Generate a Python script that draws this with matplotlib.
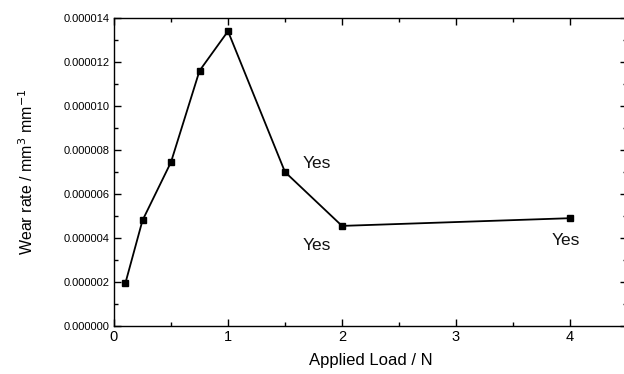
import matplotlib
matplotlib.use("Agg")
import matplotlib.pyplot as plt
from matplotlib.ticker import MultipleLocator, FormatStrFormatter

plt.rcParams['font.family'] = ['Liberation Sans', 'DejaVu Sans']

# Applied load (N) and measured wear rate (mm^3 / mm)
load = [0.1, 0.25, 0.5, 0.75, 1.0, 1.5, 2.0, 4.0]
wear_rate = [1.95e-6, 4.8e-6, 7.45e-6, 11.6e-6, 13.4e-6, 7.0e-6, 4.55e-6, 4.9e-6]

# Annotations: text, x, y
notes = ["Yes", "Yes", "Yes"]
note_x = [1.78, 1.78, 3.96]
note_y = [7.4e-6, 3.65e-6, 3.9e-6]

fig = plt.figure(figsize=(6.24, 3.74), dpi=100)
ax = fig.add_axes([114 / 624, 48 / 374, 513 / 624, 308 / 374])

ax.plot(load, wear_rate, color='black', linewidth=1.3,
        marker='s', markersize=4.8, markerfacecolor='black', markeredgecolor='black')

for t, x, y in zip(notes, note_x, note_y):
    ax.text(x, y, t, ha='center', va='center', fontsize=12.5, color='#111111')

ax.set_xlim(0, 4.5)
ax.set_ylim(0, 14e-6)

ax.xaxis.set_major_locator(MultipleLocator(1))
ax.xaxis.set_minor_locator(MultipleLocator(0.5))
ax.yaxis.set_major_locator(MultipleLocator(2e-6))
ax.yaxis.set_minor_locator(MultipleLocator(1e-6))
ax.yaxis.set_major_formatter(FormatStrFormatter('%.6f'))
ax.yaxis.get_offset_text().set_visible(False)

ax.tick_params(which='both', direction='in', top=True, right=True, width=1)
ax.tick_params(which='major', length=5)
ax.tick_params(which='minor', length=3)
ax.tick_params(axis='x', labelsize=10.5, pad=3)
ax.tick_params(axis='y', labelsize=8, pad=3)

for s in ax.spines.values():
    s.set_linewidth(1.0)

ax.set_xlabel('Applied Load / N', fontsize=12, labelpad=6)
ax.set_ylabel('Wear rate / mm$^3$ mm$^{-1}$', fontsize=11.5, labelpad=20)

fig.savefig('out.png', dpi=100)
